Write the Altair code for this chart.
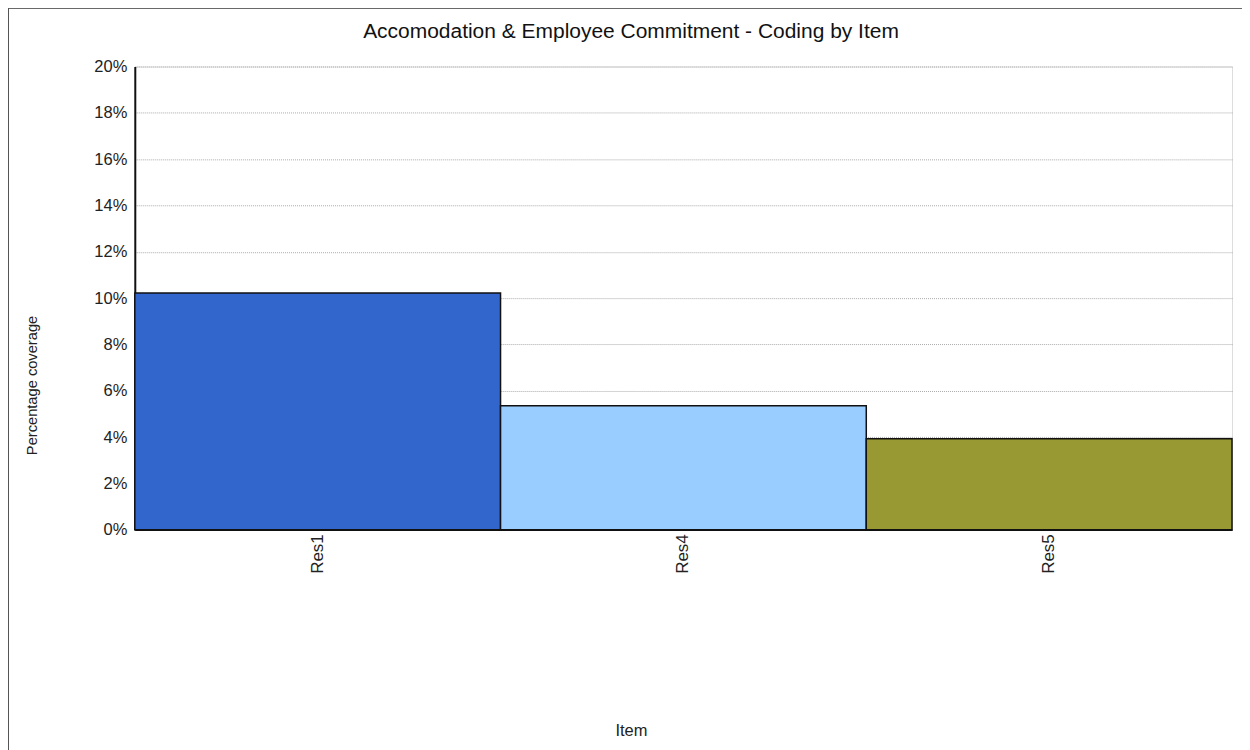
import altair as alt
import pandas as pd

items = ["Res1", "Res4", "Res5"]
coverage = [0.1022, 0.0535, 0.0393]
colors = ["#3366CC", "#99CCFF", "#999933"]
title_text = ["Accomodation & Employee Commitment - Coding by Item"]

df = pd.DataFrame({"Item": items, "Coverage": coverage})
tdf = pd.DataFrame({"t": title_text})

W, H = 1099, 464

bars = alt.Chart(df).mark_bar(stroke="#111111", strokeWidth=1.5).encode(
    x=alt.X("Item:N", sort=items,
            scale=alt.Scale(paddingInner=0, paddingOuter=0),
            axis=alt.Axis(title="Item", labelAngle=-90, labelFontSize=17,
                          labelFont="Liberation Sans", labelColor="#222222",
                          ticks=False, domain=True, domainColor="#111111", domainWidth=1.5,
                          labelPadding=4,
                          titleFont="Liberation Sans", titleFontSize=16.5, titleFontWeight="normal",
                          titleColor="#222222", titleX=497, titleY=201, titleAnchor=None,
                          titleBaseline="middle")),
    y=alt.Y("Coverage:Q",
            scale=alt.Scale(domain=[0, 0.2], nice=False),
            axis=alt.Axis(title="Percentage coverage", format=".0%", values=[i / 50 for i in range(11)],
                          labelFontSize=16.5, labelFont="Liberation Sans", labelColor="#222222",
                          ticks=False, labelPadding=8, domainColor="#111111", domainWidth=2,
                          grid=True, gridDash=[1, 1], gridColor="#aaaaaa", gridWidth=1,
                          titleFont="Liberation Sans", titleFontSize=14.7, titleFontWeight="normal",
                          titleColor="#222222", titleX=-102, titleY=319, titleAngle=-90,
                          titleBaseline="middle")),
    color=alt.Color("Item:N", scale=alt.Scale(domain=items, range=colors), legend=None),
)

frame = alt.Chart(df).mark_rect(fill=None, stroke="#555555", strokeWidth=2, clip=False).encode(
    x=alt.value(-127), x2=alt.value(W + 106), y=alt.value(-59), y2=alt.value(H + 240)
)

title = alt.Chart(tdf).mark_text(font="Liberation Sans", fontSize=21, color="#111111",
                                 align="center", baseline="middle").encode(
    text="t:N", x=alt.value(497), y=alt.value(-35)
)

chart = alt.layer(frame, bars, title).properties(
    width=W, height=H,
    autosize=alt.AutoSizeParams(type="none"),
    padding={"left": 127, "top": 58, "right": 10, "bottom": 220},
).configure_view(stroke=None).configure(background="white")

chart.save("out.html", embed_options={"renderer": "svg", "actions": False})
